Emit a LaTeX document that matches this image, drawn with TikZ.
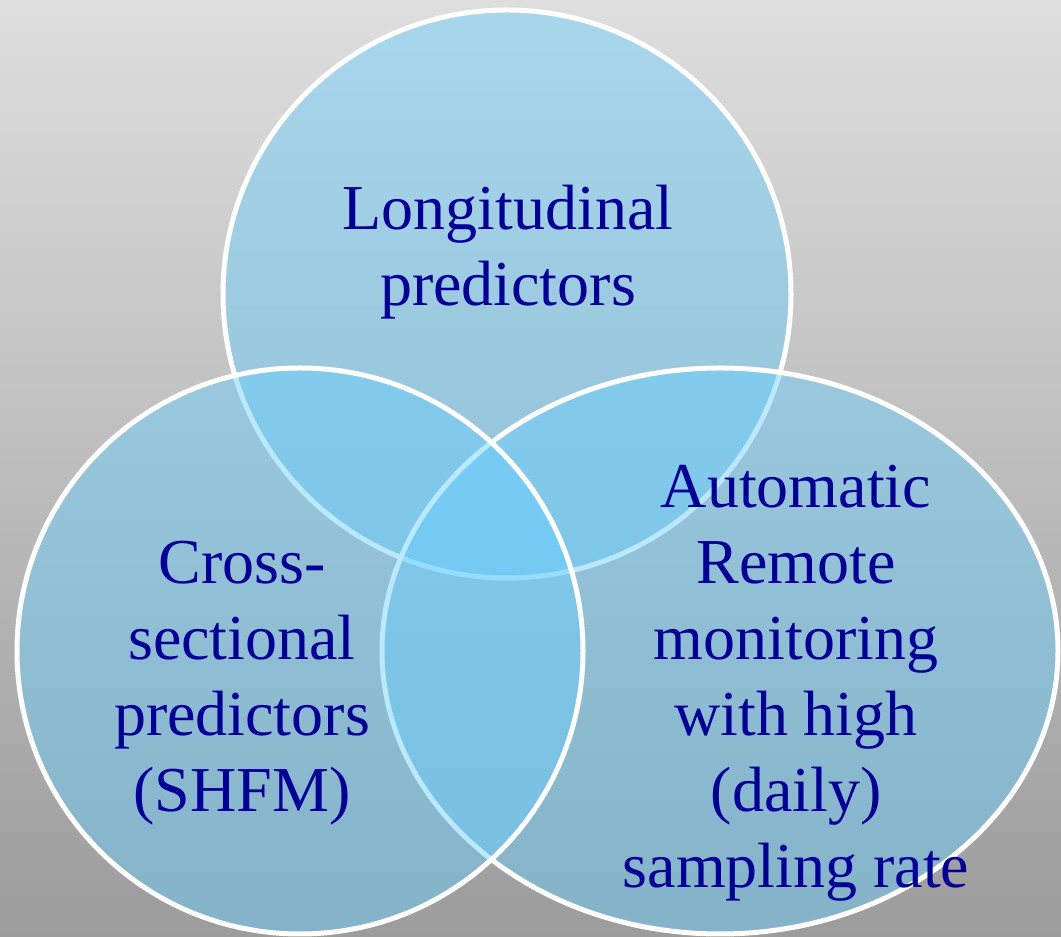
\documentclass[tikz,border=0pt]{standalone}
\usepackage{fontspec}
\setmainfont{Liberation Serif}
\definecolor{bgtop}{RGB}{222,222,222}
\definecolor{bgbot}{RGB}{156,156,156}
\definecolor{setfill}{RGB}{104,207,255}
\definecolor{txtblue}{RGB}{0,0,153}
\tikzset{
  setshape/.style={draw=white, line width=5pt, fill=setfill, fill opacity=0.45, draw opacity=1},
  settext/.style={text=txtblue, align=center, font=\fontsize{64}{76}\selectfont, inner sep=0pt}
}
\begin{document}
\begin{tikzpicture}[x=1pt,y=1pt]
\useasboundingbox (0,0) rectangle (1061,937);
\begin{scope}
\clip (0,0) rectangle (1061,937);
\shade[top color=bgtop, bottom color=bgbot] (0,0) rectangle (1061,937);
\draw[setshape] (507,643) ellipse [x radius=284pt, y radius=284pt];
\draw[setshape] (720,286) ellipse [x radius=338pt, y radius=283pt];
\draw[setshape] (300,286) ellipse [x radius=283pt, y radius=283pt];
\end{scope}
\node[settext] (long) at (508,685) {Longitudinal\\predictors};
\node[settext] (cross) at (242,254) {Cross-\\sectional\\predictors\\(SHFM)};
\node[settext] (auto) at (796,254) {Automatic\\Remote\\monitoring\\with high\\(daily)\\sampling rate};
\end{tikzpicture}
\end{document}
